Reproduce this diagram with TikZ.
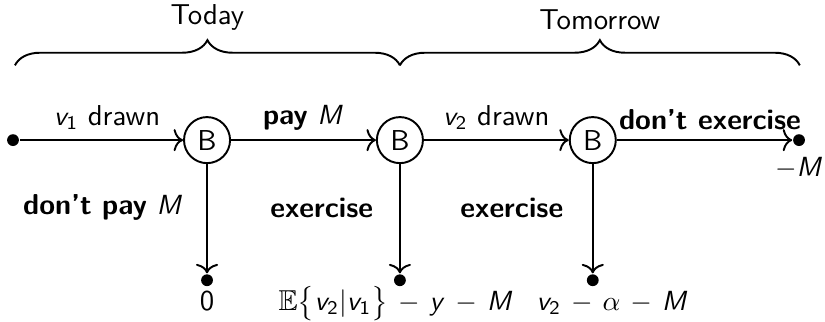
\documentclass[tikz,border=0pt]{standalone}
\usepackage{amsmath}
\usepackage{amssymb}
\usepackage{tikz}
\usetikzlibrary{arrows.meta,positioning,decorations.pathreplacing}

% sans serif letters in math, as on slides
\DeclareSymbolFont{sfitalic}{OT1}{cmss}{m}{sl}
\DeclareSymbolFont{sfupright}{OT1}{cmss}{m}{n}
\DeclareMathSymbol{v}{\mathalpha}{sfitalic}{`v}
\DeclareMathSymbol{y}{\mathalpha}{sfitalic}{`y}
\DeclareMathSymbol{M}{\mathalpha}{sfitalic}{`M}
\DeclareMathSymbol{0}{\mathalpha}{sfupright}{`0}
\DeclareMathSymbol{1}{\mathalpha}{sfupright}{`1}
\DeclareMathSymbol{2}{\mathalpha}{sfupright}{`2}

\begin{document}
\begin{tikzpicture}[
  x=1cm, y=1cm, font=\sffamily\fontsize{10.4}{12.5}\selectfont, line width=0.7pt,
  choice/.style={draw, circle, minimum size=0.585cm, inner sep=0pt},
  dot/.style={circle, fill, minimum size=0.15cm, inner sep=0pt},
  arrow/.style={-{To[length=1.2mm, width=2.8mm]}},
  period/.style={decorate, decoration={brace, amplitude=0.32cm}},
  payoff/.style={anchor=base, execute at begin node={\medmuskip=6.5mu}}
]
\useasboundingbox (0,0) rectangle (10.48,4.08);

\node[dot] (start) at (0.165, 2.30) {};
\node[choice] (b1) at (2.63, 2.30) {B};
\node[choice] (b2) at (5.08, 2.30) {B};
\node[choice] (b3) at (7.53, 2.30) {B};
\node[dot] (stop) at (10.15, 2.30) {};

\node[dot] (out1) at (2.63, 0.52) {};
\node[dot] (out2) at (5.08, 0.52) {};
\node[dot] (out3) at (7.53, 0.52) {};

% payoffs
\node[payoff] (pay1) at (2.63, 0.14) {0};
\node[payoff] (pay2) at (5.03, 0.14) {$\mathbb{E}\bigl\{v_2|v_1\bigr\}-y-M$};
\node[payoff] (pay3) at (7.78, 0.14) {$v_2-\alpha-M$};
\node[below=0pt of stop] (pay4) {$-M$};

\coordinate (t0) at (0.19, 3.25);
\coordinate (t1) at (5.08, 3.25);
\coordinate (t2) at (10.16, 3.25);
\draw[period] (t0) -- node[above=0.32cm] (today) {Today} (t1);
\draw[period] (t1) -- node[above=0.32cm] (tomorrow) {Tomorrow} (t2);

\draw[arrow] (start) -- node[above, xshift=2pt] (l1) {$v_1$ drawn} (b1);
\draw[arrow] (b1) -- node[above] (l2) {\textbf{pay} $M$} (b2);
\draw[arrow] (b2) -- node[above] (l3) {$v_2$ drawn} (b3);
\draw[arrow] (b3) -- node[above, xshift=2pt] (l4) {\textbf{don't exercise}} (stop);

\draw[arrow] (b1) -- node[pos=0.4, left=5pt] (l5) {\textbf{don't pay} $M$} (out1);
\draw[arrow] (b2) -- node[pos=0.4, left=6pt] (l6) {\textbf{exercise}} (out2);
\draw[arrow] (b3) -- node[pos=0.4, left=7pt] (l7) {\textbf{exercise}} (out3);
\end{tikzpicture}
\end{document}
